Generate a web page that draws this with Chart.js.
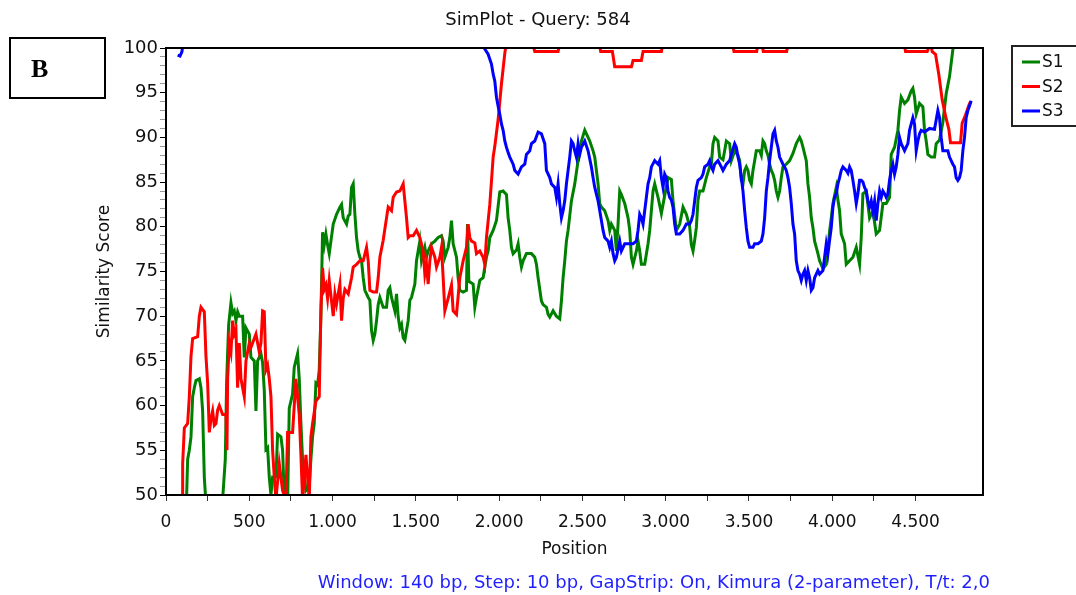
<!DOCTYPE html>
<html>
<head>
<meta charset="utf-8">
<title>SimPlot - Query: 584</title>
<script src="https://cdn.jsdelivr.net/npm/chart.js@4.4.1/dist/chart.umd.min.js"></script>
<style>
  html, body { margin: 0; padding: 0; background: #fff; }
  #wrap { position: relative; width: 1076px; height: 595px; }
</style>
</head>
<body>
<div id="wrap"><canvas id="simplot"></canvas></div>
<script>
// Similarity scores, [position (bp), score (%)]
// values above 100 / below 50 are off the plot and get clipped
const s1Points = [
  [70, 46], [118, 47], [124, 50], [130, 54], [140, 55], [150, 56.5], [160, 61], [170, 62], [180, 62.8], [200, 63],
  [210, 62], [220, 59.4], [230, 52], [240, 49], [250, 46], [330, 46], [340, 49.5], [356, 54], [364, 62.7], [376, 69],
  [390, 71.5], [400, 70.3], [410, 70.6], [420, 69.5], [430, 70.5], [440, 70], [460, 70], [470, 65.4], [480, 68.7], [500, 68],
  [510, 65.4], [530, 65], [540, 59.4], [550, 65], [570, 65.8], [580, 64.8], [590, 61.7], [600, 55.1], [610, 55.3], [620, 52],
  [630, 50], [640, 52], [660, 52], [670, 56.8], [690, 56.5], [700, 55], [710, 50], [720, 48], [730, 49], [740, 59.7],
  [760, 61.3], [770, 64.3], [790, 65.8], [800, 63], [810, 58], [820, 54], [840, 50.5], [860, 51], [870, 54], [880, 56.5],
  [890, 58], [900, 62.5], [910, 62.3], [920, 64], [930, 70], [940, 79.4], [950, 78], [960, 79.2], [970, 78], [980, 77],
  [1004, 80.3], [1024, 81.4], [1044, 82.2], [1054, 82.5], [1064, 81], [1084, 80.3], [1094, 81.2], [1104, 81.4], [1114, 84.4], [1124, 84.8],
  [1134, 81.4], [1144, 78.8], [1154, 77.3], [1164, 76.6], [1174, 76.2], [1184, 74.3], [1194, 72.9], [1214, 72.1], [1224, 71.8], [1234, 68.4],
  [1244, 67.3], [1254, 68], [1264, 69.5], [1274, 71.3], [1284, 72.1], [1304, 71], [1324, 71], [1334, 72.9], [1344, 73.2], [1354, 72.1],
  [1374, 70.6], [1384, 72.5], [1394, 69.9], [1404, 68.7], [1414, 69.1], [1424, 67.6], [1434, 67.3], [1444, 68.4], [1454, 69.5], [1464, 71.8],
  [1474, 72.1], [1494, 73.6], [1504, 76.2], [1524, 78.4], [1534, 76.2], [1554, 77.7], [1564, 76.6], [1574, 77.3], [1594, 78.1], [1614, 78.4],
  [1634, 78.8], [1654, 79], [1664, 78.4], [1674, 76.6], [1694, 77.7], [1704, 78.8], [1714, 80.7], [1724, 78.1], [1744, 76.6], [1754, 74.3],
  [1764, 72.9], [1784, 72.7], [1804, 72.9], [1810, 80.3], [1818, 73.9], [1844, 73.6], [1854, 71], [1864, 72.1], [1884, 74], [1904, 74.3],
  [1914, 75.5], [1924, 76.6], [1934, 77.3], [1944, 78.8], [1964, 79.6], [1984, 80.7], [2004, 83.9], [2024, 84], [2044, 83.6], [2054, 81],
  [2064, 79.6], [2074, 77.7], [2084, 77], [2104, 77.4], [2114, 78.1], [2124, 76.6], [2134, 75.5], [2144, 76.2], [2164, 77], [2194, 77],
  [2214, 76.6], [2224, 75.8], [2234, 74.3], [2254, 71.7], [2264, 71.3], [2284, 71], [2294, 70.2], [2304, 69.9], [2324, 70.6], [2344, 70],
  [2364, 69.7], [2374, 71.7], [2384, 74.3], [2394, 76.2], [2404, 78.4], [2414, 79.6], [2434, 82.9], [2454, 84.8], [2474, 87.4], [2494, 89.6],
  [2504, 90.2], [2514, 90.8], [2534, 90], [2544, 89.6], [2564, 88.5], [2574, 87.8], [2584, 86.3], [2594, 84.8], [2604, 82.6], [2614, 82.2],
  [2634, 81.8], [2654, 80.7], [2664, 79.6], [2674, 80.3], [2694, 79.6], [2704, 77.3], [2714, 80.3], [2724, 84], [2734, 83.6], [2754, 82.6],
  [2764, 81.8], [2774, 81], [2784, 79.6], [2794, 76.6], [2804, 75.8], [2824, 77.3], [2834, 78.4], [2844, 77.3], [2854, 75.8], [2874, 75.8],
  [2894, 78.1], [2904, 79.6], [2914, 81.8], [2924, 84], [2934, 84.8], [2954, 83.3], [2974, 81.5], [3014, 85.5], [3034, 85.3], [3044, 82.9],
  [3064, 79.6], [3084, 80.3], [3104, 82.2], [3124, 81.4], [3144, 80], [3154, 78], [3164, 77.3], [3174, 78.5], [3184, 79.9], [3194, 83],
  [3204, 84], [3224, 84], [3244, 85.5], [3264, 86.7], [3274, 87], [3284, 89.3], [3294, 90], [3314, 89.6], [3324, 87.8], [3344, 87.5],
  [3354, 88.5], [3364, 89.6], [3384, 89.3], [3394, 87.4], [3414, 88.5], [3434, 88], [3444, 87.4], [3454, 85.2], [3464, 84.8], [3474, 86.3],
  [3484, 86.7], [3494, 86.3], [3504, 85.2], [3514, 84.8], [3524, 86.3], [3534, 87.4], [3544, 88.5], [3564, 88.5], [3574, 88], [3584, 89.6],
  [3594, 89.3], [3604, 88.5], [3614, 88], [3624, 87], [3634, 86.3], [3644, 85.9], [3654, 85.2], [3664, 84], [3674, 83.3], [3684, 84],
  [3694, 85.5], [3704, 86.7], [3724, 87], [3744, 87.4], [3764, 88.2], [3784, 89.3], [3804, 90], [3814, 89.6], [3824, 88.9], [3844, 87.4],
  [3854, 84.8], [3864, 83.3], [3874, 81], [3884, 79.9], [3894, 78.4], [3904, 77.7], [3914, 77], [3924, 76.2], [3944, 75.3], [3964, 75.8],
  [3974, 77.5], [3984, 79.5], [3994, 81], [4004, 82.6], [4024, 84.4], [4034, 83], [4044, 81.8], [4054, 79.2], [4074, 78.1], [4084, 75.8],
  [4104, 76.2], [4124, 76.6], [4144, 77.7], [4164, 75.8], [4174, 78.8], [4184, 83.7], [4204, 84], [4224, 81], [4244, 81.8], [4264, 79.2],
  [4284, 79.6], [4304, 82.6], [4324, 82.6], [4344, 83.3], [4354, 88.1], [4374, 88.9], [4394, 90.8], [4404, 93], [4414, 94.5], [4434, 93.8],
  [4454, 94.2], [4474, 95.2], [4484, 95.5], [4494, 94.5], [4504, 92.6], [4524, 93.8], [4544, 93.4], [4554, 90.8], [4564, 89.6], [4574, 88.1],
  [4594, 87.8], [4614, 87.8], [4624, 89.3], [4644, 89.7], [4664, 91.7], [4684, 94.9], [4704, 96.8], [4724, 99.8], [4740, 102]
];

const s2Points = [
  [80, 46], [94, 48], [98, 50], [100, 53.5], [110, 57.5], [130, 58], [140, 61], [150, 65.5], [160, 67.5], [190, 67.7],
  [200, 70], [210, 71], [230, 70.5], [240, 65.5], [250, 62.5], [260, 57], [270, 58.5], [280, 59.4], [290, 57.8], [300, 58],
  [310, 59.5], [320, 60], [340, 59], [360, 59], [366, 55], [370, 63], [380, 67], [390, 66], [400, 69.5], [410, 68],
  [420, 68.5], [430, 62], [440, 67], [450, 63], [460, 62], [470, 61], [480, 65], [490, 66], [500, 67], [510, 66.5],
  [520, 67], [540, 68], [550, 67], [560, 66], [570, 67], [580, 70.6], [590, 70.5], [600, 64], [610, 64.5], [620, 63],
  [630, 61], [640, 55], [650, 52], [660, 49.5], [680, 53.5], [700, 50.5], [720, 49.5], [730, 57], [760, 57], [780, 63],
  [790, 61], [800, 59], [810, 54.5], [820, 49.5], [840, 54.5], [860, 49.5], [870, 56.5], [880, 58], [900, 60.5], [920, 61],
  [930, 70.6], [940, 75.4], [950, 73], [960, 73.5], [970, 72], [980, 74], [1004, 70], [1014, 72.5], [1024, 71.4], [1044, 73.6],
  [1054, 69.5], [1064, 72], [1074, 73], [1094, 72.5], [1114, 74.3], [1124, 75.5], [1144, 75.8], [1164, 76.2], [1184, 76.2], [1204, 77.7],
  [1214, 76.2], [1224, 72.9], [1244, 72.7], [1264, 72.7], [1274, 74.3], [1284, 76.6], [1304, 78.5], [1324, 81], [1334, 82.2], [1354, 81.8],
  [1364, 83.3], [1384, 83.9], [1404, 84], [1424, 84.8], [1434, 82.9], [1444, 81], [1454, 78.8], [1464, 79], [1484, 79], [1504, 79.6],
  [1524, 78.8], [1544, 77.3], [1554, 74.7], [1564, 75.8], [1574, 73.6], [1584, 76.2], [1594, 77.7], [1614, 76.6], [1624, 75.5], [1644, 76.6],
  [1654, 77.7], [1664, 74.3], [1674, 70.6], [1694, 72], [1714, 73.5], [1724, 70.6], [1744, 70.2], [1764, 74.3], [1784, 76.2], [1804, 77.7],
  [1814, 80.3], [1824, 78.8], [1834, 78.4], [1854, 78.2], [1864, 77], [1884, 77.3], [1904, 76.6], [1914, 75.8], [1924, 78.8], [1944, 82.5],
  [1954, 85.1], [1964, 87.8], [1974, 89], [1994, 92], [2014, 96], [2034, 99.4], [2044, 100.6], [2200, 100.6], [2214, 99.6], [2354, 99.6],
  [2364, 100.6], [2600, 100.6], [2610, 99.6], [2680, 99.6], [2694, 97.9], [2794, 97.9], [2804, 98.6], [2854, 98.6], [2864, 99.6], [2974, 99.6],
  [2984, 100.6], [3400, 100.6], [3410, 99.6], [3546, 99.6], [3556, 100.6], [3576, 100.6], [3586, 99.6], [3726, 99.6], [3736, 100.6], [4430, 100.6],
  [4440, 99.6], [4570, 99.6], [4590, 100.6], [4600, 99.6], [4620, 99.3], [4640, 97], [4660, 94.2], [4680, 92.4], [4700, 90.9], [4710, 89.4],
  [4770, 89.4], [4780, 91.6], [4800, 92.5], [4820, 93.6], [4830, 94]
];

const s3Points = [
  [70, 99.2], [84, 99.1], [96, 99.6], [104, 101], [1900, 101], [1910, 100], [1934, 99.3], [1954, 98.2], [1964, 97.1], [1974, 96.3],
  [1984, 94.5], [1994, 93.5], [2004, 92.6], [2014, 91.5], [2024, 90.8], [2034, 89.6], [2044, 88.9], [2054, 88.3], [2064, 87.8], [2084, 87],
  [2094, 86.3], [2114, 85.9], [2134, 86.7], [2154, 87], [2164, 88.1], [2184, 88.5], [2194, 89.3], [2214, 89.6], [2234, 90.6], [2254, 90.4],
  [2274, 89.3], [2284, 86.3], [2304, 85.5], [2314, 84.8], [2334, 84.4], [2344, 83.3], [2354, 84.8], [2364, 82.6], [2374, 81], [2384, 81.8],
  [2394, 82.9], [2404, 84.8], [2414, 86.3], [2424, 87.8], [2434, 89.6], [2444, 89.3], [2454, 88.5], [2464, 87.8], [2474, 89.3], [2484, 88.1],
  [2494, 88.9], [2514, 89.6], [2534, 88.5], [2554, 86.7], [2564, 85.5], [2574, 84.4], [2594, 82.9], [2614, 80.7], [2624, 79.6], [2634, 78.8],
  [2654, 78.4], [2664, 77.7], [2674, 78.4], [2684, 77], [2694, 76.2], [2704, 76.6], [2724, 78.4], [2734, 77.3], [2754, 78.1], [2774, 78.1],
  [2804, 78.1], [2824, 78.4], [2834, 79.6], [2844, 81.4], [2854, 81], [2864, 80.3], [2874, 81.8], [2884, 83.3], [2894, 84.8], [2904, 85.5],
  [2914, 86.7], [2934, 87.4], [2954, 87], [2964, 87.4], [2974, 85.5], [2984, 84.4], [2994, 85.9], [3004, 85.5], [3014, 84], [3024, 83.3],
  [3034, 83], [3044, 82.2], [3054, 80.3], [3064, 79.2], [3084, 79.2], [3104, 79.6], [3124, 80.3], [3144, 80.3], [3154, 80.7], [3164, 81.4],
  [3174, 82.9], [3184, 84.4], [3194, 85.2], [3214, 85.5], [3224, 85.9], [3234, 86.7], [3254, 87], [3264, 87.4], [3274, 86.7], [3284, 86.3],
  [3294, 87], [3314, 87.4], [3334, 86.7], [3344, 86.3], [3364, 87], [3384, 87.4], [3394, 88.1], [3414, 89.3], [3424, 88.9], [3434, 87.8],
  [3444, 87], [3454, 85.5], [3464, 84], [3474, 81.8], [3484, 79.9], [3494, 78.4], [3504, 77.7], [3524, 77.7], [3534, 78.1], [3554, 78.1],
  [3574, 78.4], [3584, 79.2], [3594, 81], [3604, 84], [3614, 85.5], [3624, 87.4], [3634, 88.9], [3644, 90.4], [3654, 90.8], [3664, 89.6],
  [3674, 88.9], [3684, 87.8], [3694, 87.4], [3704, 87], [3714, 86.7], [3724, 86.3], [3734, 85.5], [3744, 84.4], [3754, 82.6], [3764, 80.3],
  [3774, 79.2], [3784, 76.2], [3794, 75.1], [3804, 74.7], [3814, 74], [3824, 74.7], [3834, 75.1], [3844, 74], [3854, 75.1], [3864, 74.3],
  [3874, 72.9], [3884, 73.2], [3894, 74.3], [3904, 74.7], [3914, 75.1], [3924, 74.7], [3944, 75.1], [3954, 76.6], [3964, 78.1], [3974, 77],
  [3984, 78.5], [3994, 79.9], [4004, 82.2], [4014, 83.3], [4024, 83.7], [4034, 84.8], [4044, 85.5], [4054, 86.3], [4064, 86.7], [4084, 86.3],
  [4094, 86], [4104, 86.7], [4114, 86.3], [4124, 85.2], [4134, 84], [4144, 82.6], [4154, 83.7], [4164, 85.2], [4174, 85.2], [4184, 85],
  [4194, 84.4], [4204, 84], [4214, 82.9], [4224, 82.2], [4234, 82.9], [4244, 81.8], [4254, 82.9], [4264, 80.7], [4274, 82.6], [4284, 84],
  [4294, 83.3], [4304, 84], [4314, 83.7], [4324, 83.3], [4334, 83.7], [4344, 85.2], [4354, 86.3], [4364, 87], [4374, 85.9], [4384, 86.7],
  [4394, 88.1], [4404, 90], [4414, 89.3], [4424, 88.9], [4434, 88.5], [4444, 88.9], [4454, 89.3], [4464, 90.8], [4474, 91.5], [4484, 92.2],
  [4494, 91.5], [4504, 88.5], [4514, 89.6], [4524, 90.4], [4534, 90.8], [4554, 90.6], [4584, 91], [4614, 90.9], [4634, 93], [4644, 92.2],
  [4654, 90], [4664, 88.5], [4694, 88.5], [4704, 87.8], [4714, 87.4], [4724, 87], [4734, 86.7], [4744, 85.5], [4754, 85.2], [4764, 85.5],
  [4774, 86.3], [4784, 88.5], [4794, 90], [4804, 92.2], [4814, 93], [4824, 93.5], [4834, 94.1]
];

const seriesNames = ['S1', 'S2', 'S3'];
const seriesColors = ['#008000', '#ff0000', '#0000ff'];
const footnote = 'Window: 140 bp, Step: 10 bp, GapStrip: On, Kimura (2-parameter), T/t: 2,0';

const FONT = '"DejaVu Sans", Arial, sans-serif';

// 1000 -> "1.000"
function fmtPos(v) {
  if (v < 1000) return String(v);
  return Math.floor(v / 1000) + '.' + String(v % 1000).padStart(3, '0');
}

function toXY(points) {
  return points.map(p => ({ x: p[0], y: p[1] }));
}

// frame around the plot, the "B" box, legend and footnote
const decorations = {
  id: 'decorations',
  afterDatasetsDraw(chart) {
    const { ctx, chartArea: a } = chart;
    ctx.save();
    ctx.strokeStyle = '#000';
    ctx.lineWidth = 2;
    ctx.strokeRect(a.left, a.top, a.right - a.left, a.bottom - a.top);
    ctx.restore();
  },
  afterDraw(chart) {
    const ctx = chart.ctx;
    ctx.save();

    // panel label
    ctx.strokeStyle = '#000';
    ctx.lineWidth = 2;
    ctx.strokeRect(10, 38, 95, 60);
    ctx.fillStyle = '#000';
    ctx.font = 'bold 26px "Liberation Serif", "Times New Roman", serif';
    ctx.textAlign = 'left';
    ctx.textBaseline = 'alphabetic';
    ctx.fillText('B', 31, 77);

    // legend
    ctx.strokeStyle = '#222';
    ctx.lineWidth = 2;
    ctx.strokeRect(1012, 46, 70, 80);
    ctx.font = '17px ' + FONT;
    ctx.textBaseline = 'middle';
    seriesNames.forEach((name, i) => {
      const y = 62 + i * 24.5;
      ctx.strokeStyle = seriesColors[i];
      ctx.lineWidth = 3;
      ctx.beginPath();
      ctx.moveTo(1022, y);
      ctx.lineTo(1040, y);
      ctx.stroke();
      ctx.fillStyle = '#111';
      ctx.fillText(name, 1042, y + 1);
    });

    // footnote
    ctx.fillStyle = '#1f1fff';
    ctx.font = '18px ' + FONT;
    ctx.textAlign = 'right';
    ctx.fillText(footnote, 990, 583);
    ctx.restore();
  }
};

new Chart(document.getElementById('simplot'), {
  type: 'line',
  data: {
    datasets: [
      { label: seriesNames[0], data: toXY(s1Points), borderColor: seriesColors[0], order: 2 },
      { label: seriesNames[1], data: toXY(s2Points), borderColor: seriesColors[1], order: 1 },
      { label: seriesNames[2], data: toXY(s3Points), borderColor: seriesColors[2], order: 0 }
    ]
  },
  options: {
    responsive: true,
    maintainAspectRatio: false,
    animation: false,
    layout: { padding: 0 },
    elements: {
      line: { borderWidth: 3, tension: 0, fill: false },
      point: { radius: 0, hoverRadius: 0 }
    },
    plugins: {
      legend: { display: false },
      tooltip: { enabled: false },
      title: {
        display: true,
        text: 'SimPlot - Query: 584',
        color: '#111',
        font: { family: FONT, size: 18, weight: 'normal' },
        padding: { top: 10, bottom: 16.4 }
      }
    },
    scales: {
      x: {
        type: 'linear',
        position: 'bottom',
        min: 0,
        max: 4905,
        afterBuildTicks: s => { s.ticks = s.ticks.filter(t => t.value % 250 === 0); },
        afterFit: s => { s.height = 100; },
        ticks: {
          stepSize: 250,
          autoSkip: false,
          maxRotation: 0,
          padding: 11,
          color: '#111',
          font: { family: FONT, size: 17 },
          callback: v => (v % 500 === 0 ? fmtPos(v) : '')
        },
        grid: { drawOnChartArea: false, tickLength: 6, tickColor: '#333' },
        border: { color: '#000', width: 2 },
        title: {
          display: true,
          text: 'Position',
          color: '#111',
          font: { family: FONT, size: 17 },
          padding: { top: 0, bottom: 34.8 }
        }
      },
      y: {
        min: 50,
        max: 100,
        afterFit: s => { s.width = 166; },
        ticks: {
          stepSize: 1,
          autoSkip: false,
          padding: 2,
          color: '#111',
          font: { family: FONT, size: 18 },
          callback: v => (v % 5 === 0 ? v : '')
        },
        grid: {
          drawOnChartArea: false,
          tickLength: 6,
          tickColor: c => (c.tick && c.tick.value % 5 === 0 ? '#000' : '#999')
        },
        border: { color: '#000', width: 2 },
        title: {
          display: true,
          text: 'Similarity Score',
          color: '#111',
          font: { family: FONT, size: 17 },
          padding: { top: 94.8, bottom: 0 }
        }
      },
      // empty right-hand axis that keeps room for the legend
      yRight: {
        axis: 'y',
        position: 'right',
        display: true,
        afterFit: s => { s.width = 93; },
        ticks: { display: false },
        grid: { display: false },
        border: { display: false }
      }
    }
  },
  plugins: [decorations]
});
</script>
</body>
</html>
